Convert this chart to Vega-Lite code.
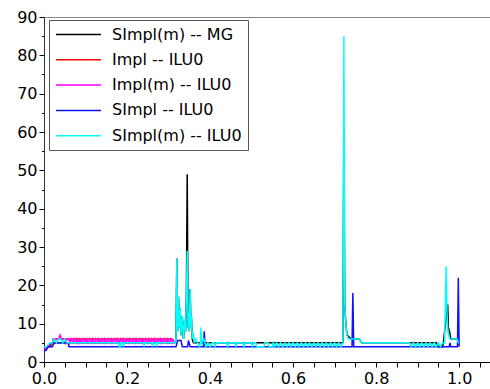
{
"$schema": "https://vega.github.io/schema/vega-lite/v6.json",
"width": 450, "height": 345,
"autosize": {"type": "none"},
"padding": {"left": 44, "top": 17, "right": 0, "bottom": 27},
"config": {"view": {"stroke": "#888", "strokeWidth": 1}, "font": "DejaVu Sans"},
"encoding": {
  "x": {"field": "x", "type": "quantitative", "scale": {"domain": [0, 1.084], "nice": false, "zero": false},
    "axis": {"values": [0,0.05,0.1,0.15,0.2,0.25,0.3,0.35,0.4,0.45,0.5,0.55,0.6,0.65,0.7,0.75,0.8,0.85,0.9,0.95,1.0,1.05],
      "labelExpr": "abs(datum.value*5-round(datum.value*5))<0.001 ? format(datum.value,'.1f') : ''",
      "title": null, "grid": false, "tickSize": 5, "labelFontSize": 16, "labelColor": "black", "tickColor": "black", "domainColor": "black", "labelPadding": 3, "labelFlush": false, "labelOverlap": false, "labelFont": "DejaVu Sans"}},
  "y": {"field": "y", "type": "quantitative", "scale": {"domain": [0, 90], "nice": false},
    "axis": {"values": [0,5,10,15,20,25,30,35,40,45,50,55,60,65,70,75,80,85,90],
      "labelExpr": "datum.value % 10 == 0 ? datum.label : ''",
      "tickSize": {"condition": {"test": "datum.value % 10 == 0", "value": 5}, "value": 2.5},
      "title": null, "grid": false, "labelFontSize": 16, "labelColor": "black", "tickColor": "black", "domainColor": "#333", "labelPadding": 2, "labelOverlap": false, "labelFont": "DejaVu Sans"}}
},
"layer": [
{"data": {"values": [
{"x":0,"y":3},{"x":0.01,"y":4},{"x":0.02,"y":5},{"x":0.06,"y":5},{"x":0.315,"y":5},{"x":0.318,"y":6},{"x":0.32,"y":27},{"x":0.322,"y":8},{"x":0.324,"y":17},{"x":0.326,"y":9},{"x":0.328,"y":14},{"x":0.33,"y":7},{"x":0.333,"y":12},{"x":0.336,"y":6},{"x":0.339,"y":11},{"x":0.341,"y":8},{"x":0.343,"y":17},{"x":0.345,"y":49},{"x":0.347,"y":9},{"x":0.348,"y":13},{"x":0.35,"y":8},{"x":0.352,"y":19},{"x":0.354,"y":9},{"x":0.355,"y":12},{"x":0.357,"y":6},{"x":0.36,"y":5},{"x":0.72,"y":5},{"x":0.7224,"y":61},{"x":0.7245,"y":15},{"x":0.726,"y":12},{"x":0.728,"y":9},{"x":0.73,"y":7},{"x":0.74,"y":6},{"x":0.76,"y":6},{"x":0.765,"y":5},{"x":0.945,"y":5},{"x":0.95,"y":4},{"x":0.96,"y":4},{"x":0.962,"y":5},{"x":0.9725,"y":15},{"x":0.974,"y":9},{"x":0.977,"y":8},{"x":0.98,"y":6},{"x":1.0,"y":6}
]},
 "mark": {"type": "line", "strokeWidth": 1.5, "clip": true},
 "encoding": {"color": {"datum": "SImpl(m) -- MG", "type": "nominal",
   "scale": {"domain": ["SImpl(m) -- MG", "Impl -- ILU0", "Impl(m) -- ILU0", "SImpl -- ILU0", "SImpl(m) -- ILU0"], "range": ["#000000", "#ff0000", "#ff00ff", "#1010ff", "#00ffff"]},
   "legend": {"orient": "none", "legendX": 5, "legendY": 3, "title": null, "symbolType": "M-1,0H5", "symbolSize": 225, "symbolStrokeWidth": 1.5, "symbolFillColor": "transparent", "labelFontSize": 16, "labelFont": "DejaVu Sans", "labelColor": "black", "labelOffset": 40, "padding": 6, "rowPadding": 8.3, "strokeColor": "#555", "fillColor": "white", "labelLimit": 300}}}},
{"data": {"values": [
{"x":0,"y":4},{"x":0.015,"y":4},{"x":0.02,"y":5},{"x":0.025,"y":6},{"x":0.1,"y":6},{"x":0.2,"y":6},{"x":0.31,"y":6}
]},
 "mark": {"type": "line", "strokeWidth": 1.5, "clip": true},
 "encoding": {"color": {"datum": "Impl -- ILU0", "type": "nominal"}}},
{"data": {"values": [
{"x":0,"y":3},{"x":0.005,"y":3.5},{"x":0.01,"y":4},{"x":0.015,"y":5},{"x":0.02,"y":5},{"x":0.022,"y":6},{"x":0.035,"y":6},{"x":0.039,"y":7},{"x":0.042,"y":6},{"x":0.05,"y":6},{"x":0.052,"y":5},{"x":0.055,"y":6},{"x":0.06,"y":6},{"x":0.062,"y":5},{"x":0.065,"y":6},{"x":0.07,"y":5},{"x":0.073,"y":6},{"x":0.078,"y":5},{"x":0.08,"y":6},{"x":0.085,"y":5},{"x":0.087,"y":6},{"x":0.092,"y":5},{"x":0.095,"y":6},{"x":0.1,"y":5},{"x":0.102,"y":6},{"x":0.107,"y":5},{"x":0.11,"y":6},{"x":0.115,"y":5},{"x":0.117,"y":6},{"x":0.122,"y":5},{"x":0.125,"y":6},{"x":0.13,"y":5},{"x":0.132,"y":6},{"x":0.137,"y":5},{"x":0.14,"y":6},{"x":0.145,"y":5},{"x":0.147,"y":6},{"x":0.152,"y":5},{"x":0.155,"y":6},{"x":0.16,"y":5},{"x":0.162,"y":6},{"x":0.167,"y":5},{"x":0.17,"y":6},{"x":0.175,"y":5},{"x":0.177,"y":6},{"x":0.182,"y":5},{"x":0.185,"y":6},{"x":0.19,"y":5},{"x":0.192,"y":6},{"x":0.197,"y":5},{"x":0.2,"y":6},{"x":0.205,"y":5},{"x":0.207,"y":6},{"x":0.212,"y":5},{"x":0.215,"y":6},{"x":0.22,"y":5},{"x":0.222,"y":6},{"x":0.227,"y":5},{"x":0.23,"y":6},{"x":0.235,"y":5},{"x":0.237,"y":6},{"x":0.242,"y":5},{"x":0.245,"y":6},{"x":0.25,"y":5},{"x":0.252,"y":6},{"x":0.257,"y":5},{"x":0.26,"y":6},{"x":0.265,"y":5},{"x":0.267,"y":6},{"x":0.272,"y":5},{"x":0.275,"y":6},{"x":0.28,"y":5},{"x":0.282,"y":6},{"x":0.287,"y":5},{"x":0.29,"y":6},{"x":0.295,"y":5},{"x":0.297,"y":6},{"x":0.302,"y":5},{"x":0.305,"y":6},{"x":0.31,"y":5},{"x":0.312,"y":6}
]},
 "mark": {"type": "line", "strokeWidth": 1.5, "clip": true},
 "encoding": {"color": {"datum": "Impl(m) -- ILU0", "type": "nominal"}}},
{"data": {"values": [
{"x":0,"y":3},{"x":0.005,"y":3},{"x":0.01,"y":4},{"x":0.02,"y":4},{"x":0.025,"y":5},{"x":0.058,"y":5},{"x":0.06,"y":4},{"x":0.318,"y":4},{"x":0.322,"y":5.6},{"x":0.33,"y":5.6},{"x":0.333,"y":4},{"x":0.346,"y":4},{"x":0.348,"y":5.6},{"x":0.352,"y":4},{"x":0.384,"y":4},{"x":0.386,"y":8},{"x":0.388,"y":4},{"x":0.742,"y":4},{"x":0.744,"y":18},{"x":0.746,"y":4},{"x":0.976,"y":4},{"x":0.978,"y":5},{"x":0.98,"y":4},{"x":0.996,"y":4},{"x":0.998,"y":22},{"x":1.0,"y":4}
]},
 "mark": {"type": "line", "strokeWidth": 1.5, "clip": true},
 "encoding": {"color": {"datum": "SImpl -- ILU0", "type": "nominal"}}},
{"data": {"values": [
{"x":0,"y":4},{"x":0.005,"y":4},{"x":0.01,"y":4.5},{"x":0.015,"y":5},{"x":0.02,"y":5},{"x":0.025,"y":6},{"x":0.03,"y":5},{"x":0.035,"y":6},{"x":0.04,"y":6},{"x":0.045,"y":5},{"x":0.05,"y":6},{"x":0.055,"y":5},{"x":0.06,"y":5},{"x":0.18,"y":5},{"x":0.181,"y":4},{"x":0.184,"y":4},{"x":0.185,"y":5},{"x":0.19,"y":5},{"x":0.191,"y":4},{"x":0.193,"y":5},{"x":0.24,"y":5},{"x":0.241,"y":4},{"x":0.243,"y":5},{"x":0.26,"y":5},{"x":0.261,"y":4},{"x":0.263,"y":5},{"x":0.27,"y":5},{"x":0.271,"y":4},{"x":0.273,"y":5},{"x":0.315,"y":5},{"x":0.318,"y":6},{"x":0.32,"y":27},{"x":0.322,"y":8},{"x":0.324,"y":17},{"x":0.326,"y":9},{"x":0.328,"y":14},{"x":0.33,"y":7},{"x":0.333,"y":12},{"x":0.336,"y":6},{"x":0.339,"y":11},{"x":0.341,"y":8},{"x":0.343,"y":17},{"x":0.345,"y":29},{"x":0.347,"y":9},{"x":0.348,"y":13},{"x":0.35,"y":8},{"x":0.352,"y":19},{"x":0.354,"y":9},{"x":0.355,"y":12},{"x":0.357,"y":6},{"x":0.358,"y":8},{"x":0.36,"y":7},{"x":0.362,"y":5},{"x":0.365,"y":6},{"x":0.37,"y":5},{"x":0.375,"y":4},{"x":0.377,"y":5},{"x":0.378,"y":9},{"x":0.38,"y":5},{"x":0.385,"y":6},{"x":0.39,"y":4},{"x":0.395,"y":5},{"x":0.4,"y":4},{"x":0.405,"y":5},{"x":0.41,"y":5},{"x":0.412,"y":4},{"x":0.415,"y":5},{"x":0.44,"y":5},{"x":0.442,"y":4},{"x":0.445,"y":5},{"x":0.46,"y":5},{"x":0.462,"y":4},{"x":0.464,"y":5},{"x":0.48,"y":5},{"x":0.482,"y":4},{"x":0.485,"y":5},{"x":0.5,"y":5},{"x":0.502,"y":4},{"x":0.505,"y":5},{"x":0.51,"y":5},{"x":0.512,"y":4},{"x":0.53,"y":4},{"x":0.532,"y":5},{"x":0.54,"y":5},{"x":0.542,"y":4},{"x":0.55,"y":4},{"x":0.552,"y":5},{"x":0.555,"y":4},{"x":0.56,"y":5},{"x":0.565,"y":4},{"x":0.57,"y":5},{"x":0.575,"y":4},{"x":0.58,"y":5},{"x":0.585,"y":4},{"x":0.59,"y":5},{"x":0.595,"y":4},{"x":0.6,"y":5},{"x":0.605,"y":4},{"x":0.61,"y":5},{"x":0.615,"y":4},{"x":0.62,"y":5},{"x":0.625,"y":4},{"x":0.63,"y":5},{"x":0.635,"y":4},{"x":0.64,"y":5},{"x":0.645,"y":4},{"x":0.65,"y":5},{"x":0.655,"y":4},{"x":0.66,"y":5},{"x":0.665,"y":4},{"x":0.67,"y":5},{"x":0.675,"y":4},{"x":0.68,"y":5},{"x":0.685,"y":4},{"x":0.69,"y":5},{"x":0.695,"y":4},{"x":0.7,"y":5},{"x":0.705,"y":4},{"x":0.71,"y":5},{"x":0.715,"y":4},{"x":0.72,"y":5},{"x":0.7224,"y":85},{"x":0.7245,"y":15},{"x":0.726,"y":12},{"x":0.728,"y":9},{"x":0.73,"y":7},{"x":0.733,"y":6},{"x":0.74,"y":6},{"x":0.76,"y":6},{"x":0.765,"y":5},{"x":0.88,"y":5},{"x":0.885,"y":4},{"x":0.89,"y":5},{"x":0.895,"y":4},{"x":0.9,"y":5},{"x":0.905,"y":4},{"x":0.91,"y":5},{"x":0.915,"y":4},{"x":0.92,"y":5},{"x":0.925,"y":4},{"x":0.93,"y":5},{"x":0.935,"y":4},{"x":0.94,"y":5},{"x":0.945,"y":4},{"x":0.95,"y":5},{"x":0.955,"y":4},{"x":0.96,"y":5},{"x":0.965,"y":5},{"x":0.9687,"y":25},{"x":0.971,"y":12},{"x":0.973,"y":8},{"x":0.975,"y":7},{"x":0.978,"y":6},{"x":0.995,"y":6},{"x":0.998,"y":5},{"x":1.0,"y":5}
]},
 "mark": {"type": "line", "strokeWidth": 1.5, "clip": true},
 "encoding": {"color": {"datum": "SImpl(m) -- ILU0", "type": "nominal"}}}
]
}
